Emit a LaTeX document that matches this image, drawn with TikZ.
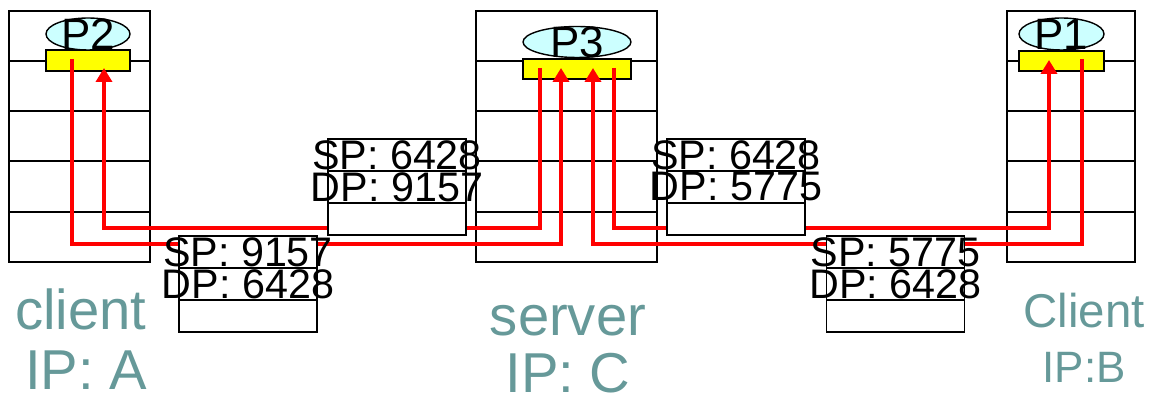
\documentclass[tikz,border=0pt]{standalone}
\usepackage{fontspec}
\setmainfont{Liberation Sans}
\usepackage{tikz}
\usetikzlibrary{shapes,arrows.meta,positioning,calc}
\usepackage{xcolor}
\definecolor{socketyellow}{RGB}{255,255,0}
\definecolor{proccyan}{RGB}{204,255,255}
\definecolor{labelteal}{RGB}{102,153,153}

\begin{document}
\begin{tikzpicture}[x=0.02cm, y=-0.02cm, node distance=0pt]
    % Define styles
    \tikzstyle{host} = [rectangle, draw, line width=1pt, fill=white, inner sep=0pt, minimum height=5.02cm]
    \tikzstyle{socket} = [rectangle, draw, line width=1pt, fill=socketyellow, inner sep=0pt]
    \tikzstyle{proc} = [ellipse, draw, line width=0.8pt, fill=proccyan, inner sep=0pt]
    \tikzstyle{proc text} = [inner sep=0pt, font=\fontsize{25}{25}\selectfont]
    \tikzstyle{pkt row} = [rectangle, draw, line width=0.8pt, fill=white, inner sep=0pt, outer sep=0pt, minimum width=2.76cm, minimum height=0.64cm]
    \tikzstyle{pkt text} = [inner sep=0pt, font=\fontsize{23.5}{23.5}\selectfont]
    \tikzstyle{flow} = [draw=red, line width=2.3pt, -{Triangle[width=0.32cm,length=0.28cm]}]
    \tikzstyle{hostname} = [anchor=base, inner sep=0pt, text=labelteal, font=\fontsize{32}{32}\selectfont]

    \useasboundingbox (0,0) rectangle (1157,401);

    % Hosts
    \node[host, minimum width=2.82cm] (hostA) at (79.5,136.5) {};
    \node[host, minimum width=3.62cm] (hostC) at (566.5,136.5) {};
    \node[host, minimum width=2.56cm] (hostB) at (1071,136.5) {};

    % Layers
    \foreach \y in {61,111,161,212} {
        \draw[line width=1pt] (hostA.west |- 0,\y) -- (hostA.east |- 0,\y);
        \draw[line width=1pt] (hostC.west |- 0,\y) -- (hostC.east |- 0,\y);
        \draw[line width=1pt] (hostB.west |- 0,\y) -- (hostB.east |- 0,\y);
    }

    % Sockets and processes
    \node[socket, minimum width=1.68cm, minimum height=0.42cm] (sockA) at (88,60.5) {};
    \node[socket, minimum width=2.16cm, minimum height=0.40cm] (sockC) at (577,69) {};
    \node[socket, minimum width=1.70cm, minimum height=0.40cm] (sockB) at (1061.5,61) {};
    \node[proc, minimum width=1.68cm, minimum height=0.64cm, label={[proc text]center:P2}] (procA) at (88,34) {};
    \node[proc, minimum width=2.16cm, minimum height=0.62cm, label={[proc text]center:P3}] (procC) at (577,42) {};
    \node[proc, minimum width=1.70cm, minimum height=0.64cm, label={[proc text]center:P1}] (procB) at (1061.5,34) {};

    % Ports and lanes
    \coordinate (p2out) at (72,59);
    \coordinate (p2in) at (104,68);
    \coordinate (p3a) at (540,68);
    \coordinate (p3b) at (561,68);
    \coordinate (p3c) at (593,68);
    \coordinate (p3d) at (614,68);
    \coordinate (p1in) at (1049,60);
    \coordinate (p1out) at (1082,59);
    \coordinate (laneA) at (0,228);
    \coordinate (laneB) at (0,244);

    % Segments
    \draw[flow] (p2out) |- (p3b |- laneB) -- (p3b);
    \draw[flow] (p3a) |- (p2in |- laneA) -- (p2in);
    \draw[flow] (p3d) |- (p1in |- laneA) -- (p1in);
    \draw[flow] (p1out) |- (p3c |- laneB) -- (p3c);

    % Packets
    \node[pkt row] (pktAsp) at (397,155) {};
    \node[pkt row, below=of pktAsp] (pktAdp) {};
    \node[pkt row, below=of pktAdp] (pktAbody) {};
    \node[pkt text] at (pktAsp) {SP: 6428};
    \node[pkt text] at (pktAdp) {DP: 9157};

    \node[pkt row] (pktBsp) at (248,252) {};
    \node[pkt row, below=of pktBsp] (pktBdp) {};
    \node[pkt row, below=of pktBdp] (pktBbody) {};
    \node[pkt text] at (pktBsp) {SP: 9157};
    \node[pkt text] at (pktBdp) {DP: 6428};

    \node[pkt row] (pktCsp) at (736,155) {};
    \node[pkt row, below=of pktCsp] (pktCdp) {};
    \node[pkt row, below=of pktCdp] (pktCbody) {};
    \node[pkt text] at (pktCsp) {SP: 6428};
    \node[pkt text] at (pktCdp) {DP: 5775};

    \node[pkt row] (pktDsp) at (895.5,252) {};
    \node[pkt row, below=of pktDsp] (pktDdp) {};
    \node[pkt row, below=of pktDdp] (pktDbody) {};
    \node[pkt text] at (pktDsp) {SP: 5775};
    \node[pkt text] at (pktDdp) {DP: 6428};

    % Host names
    \node[hostname] (nameA) at (81,330) {client};
    \node[hostname] (ipA) at (86,390) {IP: A};
    \node[hostname] (nameC) at (568,336) {server};
    \node[hostname] (ipC) at (568,393) {IP: C};
    \node[hostname, font=\fontsize{27}{27}\selectfont] (nameB) at (1084,328) {Client};
    \node[hostname, font=\fontsize{25}{25}\selectfont] (ipB) at (1084,383) {IP:B};
\end{tikzpicture}
\end{document}
